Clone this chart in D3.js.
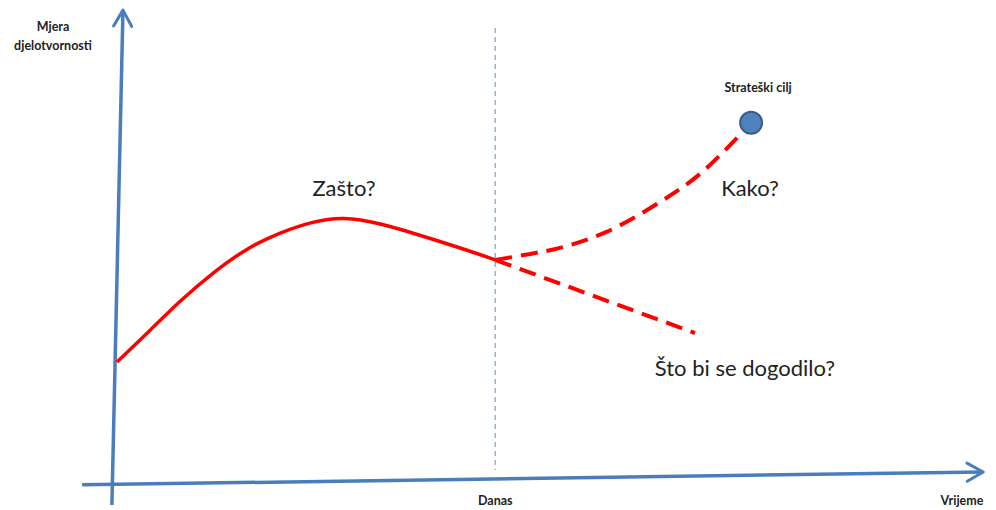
<!DOCTYPE html>
<html>
<head>
<meta charset="utf-8">
<script src="https://cdn.jsdelivr.net/npm/d3@7"></script>
<style>
body { margin: 0; background: #fff; }
text { font-family: Lato, "Open Sans", sans-serif; fill: #222; }
.small { font-size: 12.5px; font-weight: bold; }
.big { font-size: 22px; }
</style>
</head>
<body>
<div id="chart"></div>
<script>
// time (0..10) and performance (0..10) in chart units
var pastT = [0, 0.39, 0.74, 1.13, 1.53, 1.92, 2.31, 2.66, 3.09, 3.56, 4.04, 4.45];
var pastP = [2.63, 3.32, 3.96, 4.58, 5.11, 5.45, 5.69, 5.79, 5.65, 5.39, 5.11, 4.85];

var planT = [4.45, 4.86, 5.21, 5.76, 6.39, 6.86, 7.35];
var planP = [4.85, 4.98, 5.11, 5.46, 6.11, 6.72, 7.61];

var driftT = [4.45, 6.8];
var driftP = [4.85, 3.26];

var goalT = 7.46, goalP = 7.83;
var todayT = 4.45;

var xAxisT = [-0.41, 10.19], xAxisP = [-0.04, 0.24];
var yAxisT = [-0.06, 0.07], yAxisP = [-0.48, 10.28];

var labels = {
  yTitle: ["Mjera", "djelotvornosti"],
  xTitle: "Vrijeme",
  today: "Danas",
  goal: "Strateški cilj",
  why: "Zašto?",
  how: "Kako?",
  what: "Što bi se dogodilo?"
};

var width = 996, height = 510;

var x = d3.scaleLinear().domain([0, 10]).range([117, 967]);
var y = d3.scaleLinear().domain([0, 10]).range([483, 23]);

var svg = d3.select("#chart").append("svg")
  .attr("width", width)
  .attr("height", height);

var defs = svg.append("defs");
defs.append("marker")
  .attr("id", "arrow")
  .attr("markerUnits", "userSpaceOnUse")
  .attr("viewBox", "0 0 20 22")
  .attr("refX", 18)
  .attr("refY", 11)
  .attr("markerWidth", 20)
  .attr("markerHeight", 22)
  .attr("orient", "auto")
  .append("path")
  .attr("d", "M2,2 L18,11 L2,20")
  .attr("fill", "none")
  .attr("stroke", "#4a7ebb")
  .attr("stroke-width", 3)
  .attr("stroke-linecap", "round")
  .attr("stroke-linejoin", "round");

var line = d3.line()
  .x(function(d) { return x(d[0]); })
  .y(function(d) { return y(d[1]); });

function zip(a, b) {
  return a.map(function(v, i) { return [v, b[i]]; });
}

// today marker
svg.append("line")
  .attr("x1", x(todayT)).attr("x2", x(todayT))
  .attr("y1", y(9.89)).attr("y2", y(0.28))
  .attr("stroke", "#95b3d7")
  .attr("stroke-width", 1.5)
  .attr("stroke-dasharray", "5,4");

// axes
svg.append("path")
  .attr("d", line(zip(xAxisT, xAxisP)))
  .attr("stroke", "#4a7ebb")
  .attr("stroke-width", 3.5)
  .attr("fill", "none")
  .attr("marker-end", "url(#arrow)");

svg.append("path")
  .attr("d", line(zip(yAxisT, yAxisP)))
  .attr("stroke", "#4a7ebb")
  .attr("stroke-width", 3.5)
  .attr("fill", "none")
  .attr("marker-end", "url(#arrow)");

// past performance
svg.append("path")
  .attr("d", line.curve(d3.curveBasis)(zip(pastT, pastP)))
  .attr("stroke", "#ff0000")
  .attr("stroke-width", 3.5)
  .attr("fill", "none");

// planned path to goal
svg.append("path")
  .attr("d", line.curve(d3.curveCatmullRom)(zip(planT, planP)))
  .attr("stroke", "#ff0000")
  .attr("stroke-width", 4)
  .attr("stroke-dasharray", "17,9")
  .attr("fill", "none");

// drift if nothing changes
svg.append("path")
  .attr("d", line.curve(d3.curveLinear)(zip(driftT, driftP)))
  .attr("stroke", "#ff0000")
  .attr("stroke-width", 4)
  .attr("stroke-dasharray", "17,9")
  .attr("fill", "none");

// goal
svg.append("circle")
  .attr("cx", x(goalT))
  .attr("cy", y(goalP))
  .attr("r", 11)
  .attr("fill", "#4f81bd")
  .attr("stroke", "#385d8a")
  .attr("stroke-width", 2);

// texts
svg.append("text").attr("class", "small")
  .attr("x", 53).attr("y", 31)
  .attr("text-anchor", "middle")
  .text(labels.yTitle[0]);
svg.append("text").attr("class", "small")
  .attr("x", 53).attr("y", 50)
  .attr("text-anchor", "middle")
  .text(labels.yTitle[1]);

svg.append("text").attr("class", "small")
  .attr("x", x(todayT)).attr("y", 505)
  .attr("text-anchor", "middle")
  .text(labels.today);

svg.append("text").attr("class", "small")
  .attr("x", 962).attr("y", 505)
  .attr("text-anchor", "middle")
  .text(labels.xTitle);

svg.append("text").attr("class", "small")
  .attr("x", x(goalT) + 7).attr("y", 92)
  .attr("text-anchor", "middle")
  .text(labels.goal);

svg.append("text").attr("class", "big")
  .attr("x", 344).attr("y", 196)
  .attr("text-anchor", "middle")
  .text(labels.why);

svg.append("text").attr("class", "big")
  .attr("x", 750).attr("y", 196)
  .attr("text-anchor", "middle")
  .text(labels.how);

svg.append("text").attr("class", "big")
  .attr("x", 745).attr("y", 376)
  .attr("text-anchor", "middle")
  .text(labels.what);
</script>
</body>
</html>
